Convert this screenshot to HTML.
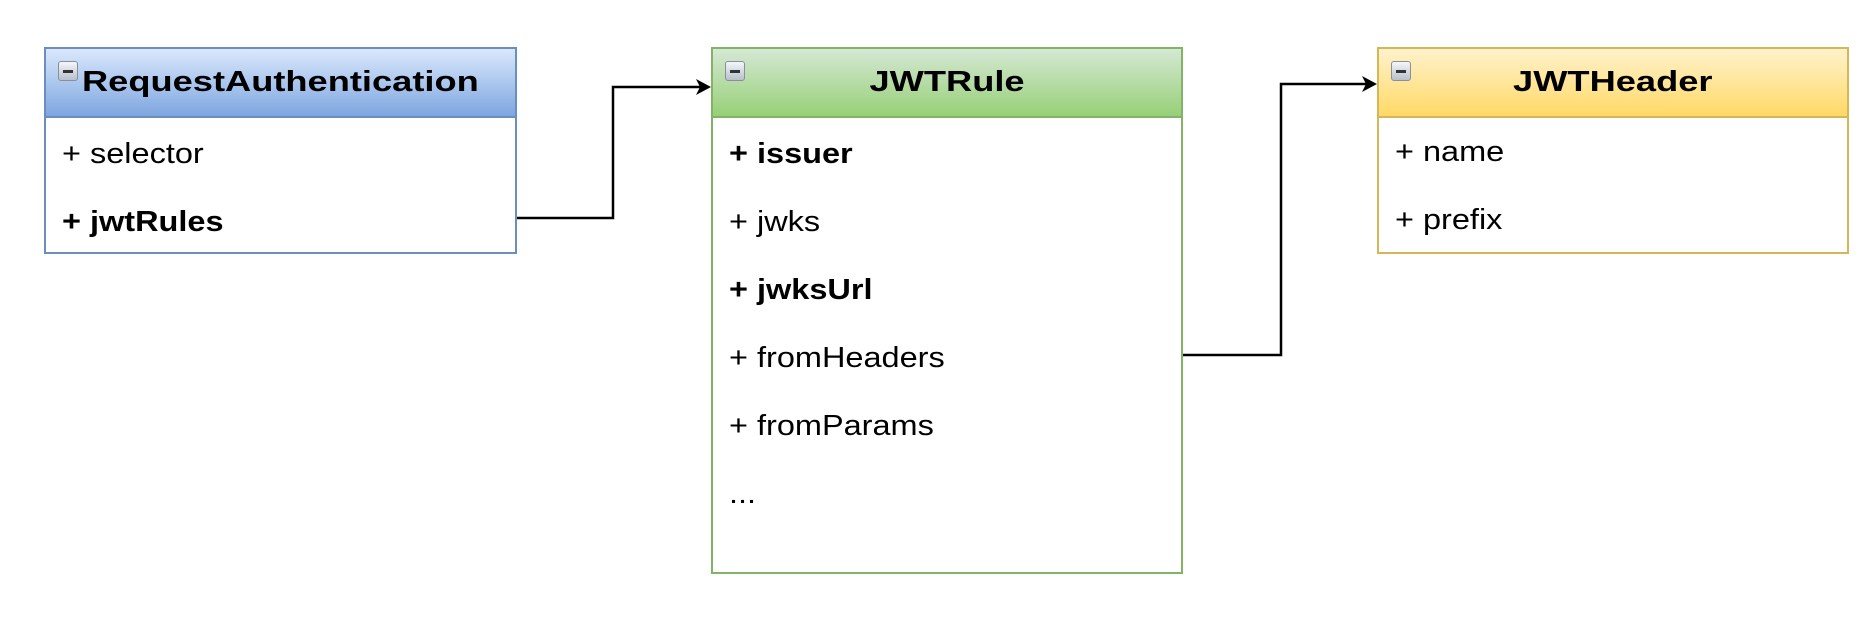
<!DOCTYPE html>
<html><head><style>
body{margin:0;width:1876px;height:624px;background:#fff;position:relative;overflow:hidden;font-family:"Liberation Sans",Arial,sans-serif;}
.box{position:absolute;box-sizing:border-box;border:2px solid;background:#fff;}
.hd{position:absolute;left:0;right:0;top:0;height:69px;box-sizing:border-box;border-bottom:2px solid;font-weight:bold;font-size:29px;line-height:67px;}
.hd span{display:inline-block;transform:scaleX(1.25);}
.ic{position:absolute;left:12px;top:12px;width:20px;height:20px;box-sizing:border-box;border:1px solid #8a8f99;border-radius:3px;background:linear-gradient(#f4f6fa,#b8c0cc);}
.ic:after{content:"";position:absolute;left:4px;right:4px;top:8px;height:3px;background:#333;}
.row{position:absolute;left:16px;font-size:29px;line-height:30px;color:#000;transform:scaleX(1.12);transform-origin:0 0;white-space:nowrap;}
.b{font-weight:bold;}
</style></head><body>
<div class="box" style="left:44px;top:47px;width:473px;height:207px;border-color:#6c8ebf;">
 <div class="hd" style="border-color:#6c8ebf;background:linear-gradient(#dae8fc,#7ea6e0);"><div class="ic"></div><span style="position:absolute;left:36px;transform-origin:0 0;">RequestAuthentication</span></div>
 <div class="row" style="top:90px">+ selector</div>
 <div class="row b" style="top:158px">+ jwtRules</div>
</div>
<div class="box" style="left:711px;top:47px;width:472px;height:527px;border-color:#82b366;">
 <div class="hd" style="border-color:#82b366;background:linear-gradient(#d5e8d4,#97d077);text-align:center;"><div class="ic"></div><span>JWTRule</span></div>
 <div class="row b" style="top:90px">+ issuer</div>
 <div class="row" style="top:158px">+ jwks</div>
 <div class="row b" style="top:226px">+ jwksUrl</div>
 <div class="row" style="top:294px">+ fromHeaders</div>
 <div class="row" style="top:362px">+ fromParams</div>
 <div class="row" style="top:430px">...</div>
</div>
<div class="box" style="left:1377px;top:47px;width:472px;height:207px;border-color:#d6b656;">
 <div class="hd" style="border-color:#d6b656;background:linear-gradient(#fff2cc,#ffd966);text-align:center;"><div class="ic"></div><span>JWTHeader</span></div>
 <div class="row" style="top:88px">+ name</div>
 <div class="row" style="top:156px">+ prefix</div>
</div>
<svg width="1876" height="624" style="position:absolute;left:0;top:0">
 <polyline points="517,218 613,218 613,87 700,87" fill="none" stroke="#000" stroke-width="2.5"/>
 <polygon points="711,87 696,79 700,87 696,95" fill="#000"/>
 <polyline points="1183,355 1281,355 1281,84 1366,84" fill="none" stroke="#000" stroke-width="2.5"/>
 <polygon points="1377,84 1362,76 1366,84 1362,92" fill="#000"/>
</svg>
</body></html>
